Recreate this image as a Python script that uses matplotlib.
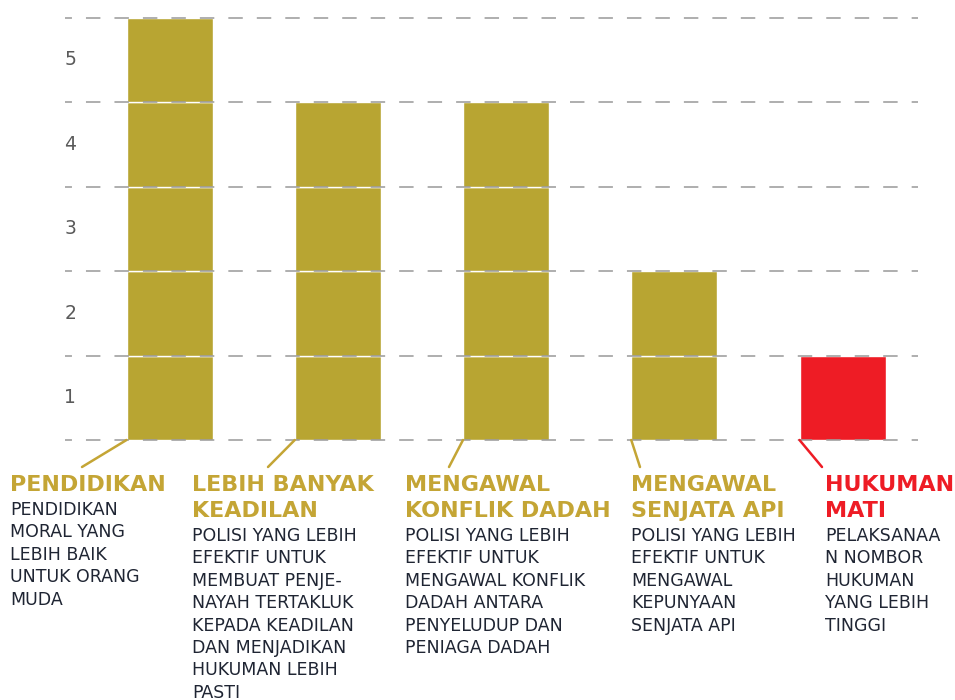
import matplotlib
matplotlib.use("Agg")
import matplotlib.pyplot as plt

plt.rcParams['font.family'] = ['DejaVu Sans']
plt.rcParams['lines.scale_dashes'] = False

GOLD = "#B8A532"
GOLD_TEXT = "#C4A535"
RED = "#EE1C25"
BODY = "#1F2533"

# data
categories = ["PENDIDIKAN", "LEBIH BANYAK\nKEADILAN", "MENGAWAL\nKONFLIK DADAH",
              "MENGAWAL\nSENJATA API", "HUKUMAN\nMATI"]
values = [5, 4, 4, 2, 1]
bar_colors = [GOLD, GOLD, GOLD, GOLD, RED]
title_colors = [GOLD_TEXT, GOLD_TEXT, GOLD_TEXT, GOLD_TEXT, RED]
descriptions = [
    ["PENDIDIKAN", "MORAL YANG", "LEBIH BAIK", "UNTUK ORANG", "MUDA"],
    ["POLISI YANG LEBIH", "EFEKTIF UNTUK", "MEMBUAT PENJE-", "NAYAH TERTAKLUK",
     "KEPADA KEADILAN", "DAN MENJADIKAN", "HUKUMAN LEBIH", "PASTI"],
    ["POLISI YANG LEBIH", "EFEKTIF UNTUK", "MENGAWAL KONFLIK", "DADAH ANTARA",
     "PENYELUDUP DAN", "PENIAGA DADAH"],
    ["POLISI YANG LEBIH", "EFEKTIF UNTUK", "MENGAWAL", "KEPUNYAAN", "SENJATA API"],
    ["PELAKSANAA", "N NOMBOR", "HUKUMAN", "YANG LEBIH", "TINGGI"],
]
tick_labels = ["1", "2", "3", "4", "5"]

# label positions (figure pixels from top-left)
label_x = [10, 192, 405, 631, 825]
leader_end = [(82, 467), (268, 467), (449, 467), (640, 467), (822, 467)]

W, H = 955, 700
fig = plt.figure(figsize=(W / 100, H / 100), dpi=100)
fig.patch.set_facecolor("white")

ax_left, ax_right, ax_bottom, ax_top = 65, 918, 440, 17.5
ax = fig.add_axes([ax_left / W, 1 - ax_bottom / H,
                   (ax_right - ax_left) / W, (ax_bottom - ax_top) / H])

step = 168.25
x0 = 169.5
ax.set_xlim((ax_left - x0) / step, (ax_right - x0) / step)
ax.set_ylim(0, 5)
bar_w = 86 / step

for i, (v, c) in enumerate(zip(values, bar_colors)):
    for k in range(v):
        ax.bar(i, 1, bottom=k, width=bar_w, color=c, edgecolor="white",
               linewidth=1.0, zorder=2)

for y in range(0, 6):
    ax.axhline(y, color="#999999", lw=1.1, linestyle=(5.4, (10.4, 10.1)),
               zorder=3, clip_on=False)

for j, t in enumerate(tick_labels):
    ax.text(-0.001, j + 0.5, t, transform=ax.get_yaxis_transform(), ha="left",
            va="center", fontsize=13.5, color="#5A5A5A")

ax.set_xticks([])
ax.set_yticks([])
for s in ax.spines.values():
    s.set_visible(False)

# leader lines
for i, (ex, ey) in enumerate(leader_end):
    ax.annotate("", xy=(i - bar_w / 2, 0), xycoords="data",
                xytext=(ex, H - ey), textcoords="figure pixels",
                arrowprops=dict(arrowstyle="-", color=title_colors[i], lw=1.8,
                                shrinkA=0, shrinkB=0))

# labels
title_step = 26
body_step = 22.4
for i, name in enumerate(categories):
    lines = name.split("\n")
    y = 485
    for ln in lines:
        fig.text(label_x[i] / W, 1 - y / H, ln, ha="left", va="center",
                 fontsize=16, fontweight="bold", color=title_colors[i])
        y += title_step
    y = y - title_step + 25
    for ln in descriptions[i]:
        fig.text(label_x[i] / W, 1 - y / H, ln, ha="left", va="center",
                 fontsize=12.5, color=BODY)
        y += body_step

fig.savefig("out.png", dpi=100, facecolor="white")
